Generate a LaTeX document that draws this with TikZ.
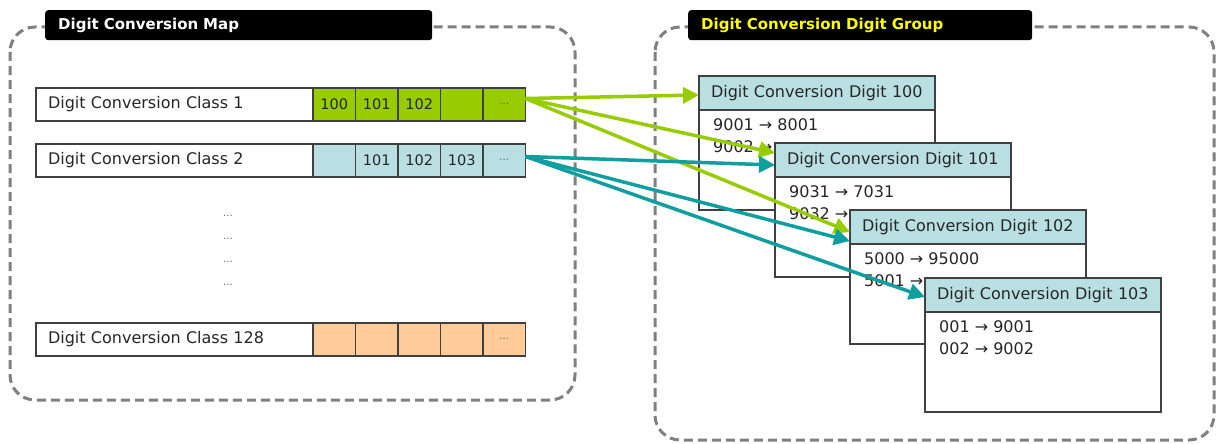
\documentclass[tikz,border=0pt]{standalone}
\usepackage{fontspec}
\setmainfont{DejaVu Sans}
\usetikzlibrary{arrows.meta, positioning}

\definecolor{cellgreen}{HTML}{99CC00}
\definecolor{headblue}{HTML}{B9DFE3}
\definecolor{cellorange}{HTML}{FFCC99}
\definecolor{arrowteal}{HTML}{109E9E}
\definecolor{framegray}{HTML}{808080}
\definecolor{titleyellow}{HTML}{FFFF00}

\begin{document}
\begin{tikzpicture}[
    x=1pt, y=-1pt,
    every node/.style={font=\fontsize{16}{19}\selectfont, text=black!85},
    frame/.style={draw=framegray, line width=3pt, dash pattern=on 9pt off 5pt, rounded corners=25pt},
    titlebox/.style={fill=black, rounded corners=3pt, minimum height=30pt, inner xsep=13pt, align=left, anchor=north west, font=\fontsize{15}{18}\selectfont\bfseries},
    classbox/.style={draw=black!75, line width=1.5pt, outer sep=0pt, fill=white, minimum height=33pt, text width=253pt, inner xsep=12pt, align=left, anchor=north west},
    cell/.style={draw=black!75, line width=1.5pt, outer sep=0pt, minimum width=42.5pt, minimum height=33pt, inner sep=0pt, font=\fontsize{14.5}{17}\selectfont},
    cellmore/.style={cell, text depth=0pt, text height=0pt, font=\fontsize{10}{12}\selectfont, text=black!60},
    dots/.style={text=black!60, inner sep=0pt, font=\fontsize{10}{12}\selectfont},
    digithead/.style={draw=black!75, line width=1.5pt, outer sep=0pt, fill=headblue, minimum height=34pt, text width=212pt, inner xsep=12pt, align=left, anchor=north west},
    digitbody/.style={draw=black!75, line width=1.5pt, outer sep=0pt, fill=white, minimum height=100pt, minimum width=236pt},
    bodytext/.style={anchor=north west, align=left, inner xsep=14pt, inner ysep=8pt, font=\fontsize{16}{22}\selectfont},
    arrow/.style={line width=3.5pt, -{Triangle[length=16pt, width=16pt]}}
]
\useasboundingbox (0,0) rectangle (1217,444);

% Frames
\draw [frame] (10,27) rectangle (575,400);
\draw [frame] (655,27) rectangle (1214,440);
\node (maptitle) [titlebox, text=white, text width=361pt] at (45,10) {Digit Conversion Map};
\node (grouptitle) [titlebox, text=titleyellow, text width=318pt] at (688,10) {Digit Conversion Digit Group};

% Map: class 1
\node (class1) [classbox] at (36,88) {Digit Conversion Class 1};
\node (r1c1) [cell, fill=cellgreen, right=0pt of class1] {100};
\node (r1c2) [cell, fill=cellgreen, right=0pt of r1c1] {101};
\node (r1c3) [cell, fill=cellgreen, right=0pt of r1c2] {102};
\node (r1c4) [cell, fill=cellgreen, right=0pt of r1c3] {};
\node (r1c5) [cellmore, fill=cellgreen, right=0pt of r1c4] {...};

% Map: class 2
\node (class2) [classbox] at (36,144) {Digit Conversion Class 2};
\node (r2c1) [cell, fill=headblue, right=0pt of class2] {};
\node (r2c2) [cell, fill=headblue, right=0pt of r2c1] {101};
\node (r2c3) [cell, fill=headblue, right=0pt of r2c2] {102};
\node (r2c4) [cell, fill=headblue, right=0pt of r2c3] {103};
\node (r2c5) [cellmore, fill=headblue, right=0pt of r2c4] {...};

% Map: skipped classes
\node (skip1) [dots] at (228,216) {...};
\node (skip2) [dots] at (228,239) {...};
\node (skip3) [dots] at (228,262) {...};
\node (skip4) [dots] at (228,285) {...};

% Map: class 128
\node (class128) [classbox] at (36,323) {Digit Conversion Class 128};
\node (r3c1) [cell, fill=cellorange, right=0pt of class128] {};
\node (r3c2) [cell, fill=cellorange, right=0pt of r3c1] {};
\node (r3c3) [cell, fill=cellorange, right=0pt of r3c2] {};
\node (r3c4) [cell, fill=cellorange, right=0pt of r3c3] {};
\node (r3c5) [cellmore, fill=cellorange, right=0pt of r3c4] {...};

% Digit group: stacked digit tables
\node (head100) [digithead] at (699,76) {Digit Conversion Digit 100};
\node (body100) [digitbody, below=0pt of head100] {};
\node (text100) [bodytext] at (body100.north west) {9001 → 8001\\9002 →};

\node (head101) [digithead] at (775,143) {Digit Conversion Digit 101};
\node (body101) [digitbody, below=0pt of head101] {};
\node (text101) [bodytext] at (body101.north west) {9031 → 7031\\9032 →};

\node (head102) [digithead] at (850,210) {Digit Conversion Digit 102};
\node (body102) [digitbody, below=0pt of head102] {};
\node (text102) [bodytext] at (body102.north west) {5000 → 95000\\5001 →};

\node (head103) [digithead] at (925,278) {Digit Conversion Digit 103};
\node (body103) [digitbody, below=0pt of head103] {};
\node (text103) [bodytext] at (body103.north west) {001 → 9001\\002 → 9002};

% Arrows: class 1
\draw [arrow, draw=cellgreen] ([yshift=6pt]r1c5.east) -- ([yshift=-2pt]head100.west);
\draw [arrow, draw=cellgreen] ([yshift=6pt]r1c5.east) -- ([yshift=7pt]head101.west);
\draw [arrow, draw=cellgreen] ([yshift=6pt]r1c5.east) -- ([yshift=-5pt]head102.west);

% Arrows: class 2
\draw [arrow, draw=arrowteal] ([yshift=4pt]r2c5.east) -- ([yshift=-5pt]head101.west);
\draw [arrow, draw=arrowteal] ([yshift=4pt]r2c5.east) -- ([yshift=-14pt]head102.west);
\draw [arrow, draw=arrowteal] ([yshift=4pt]r2c5.east) -- ([yshift=-2pt]head103.west);
\end{tikzpicture}
\end{document}
